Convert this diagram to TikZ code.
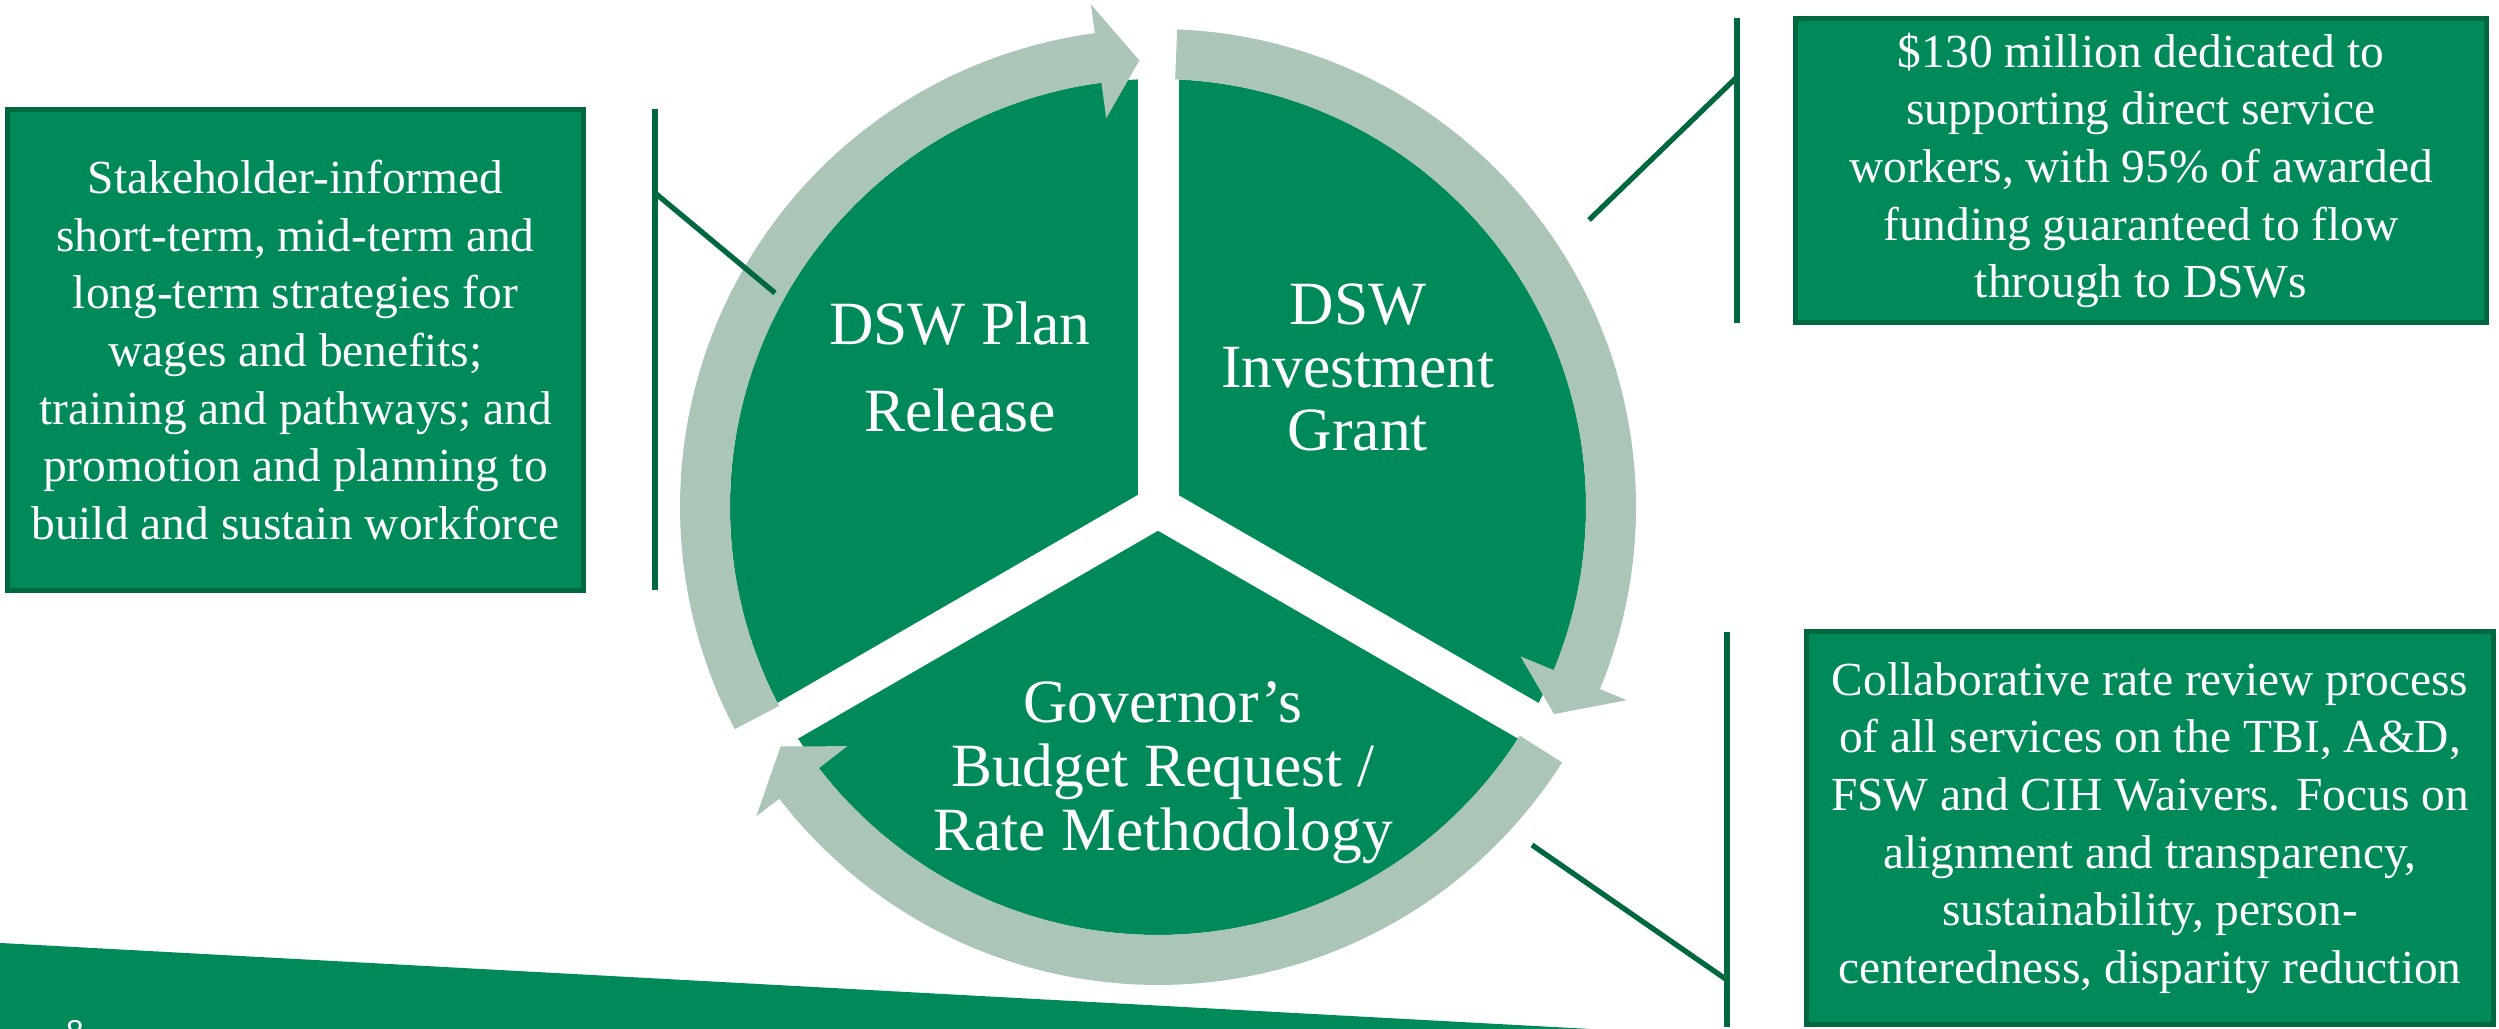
\documentclass[tikz,border=0pt]{standalone}
\usepackage{fontspec}
\setmainfont{Liberation Serif}
\newfontfamily\pagenumfont{Liberation Sans}
\definecolor{mgreen}{RGB}{0,138,90}
\definecolor{dgreen}{RGB}{0,104,62}
\definecolor{lgreen}{RGB}{171,197,182}
\begin{document}
\begin{tikzpicture}
\useasboundingbox (0,0) rectangle (24.99,10.29);
\tikzset{
  infobox/.style={draw=dgreen, line width=1.4pt, fill=mgreen, text=white, align=center,
    font=\fontsize{13.5}{16.4}\selectfont, inner sep=0pt},
  callout/.style={draw=dgreen, line width=1.5pt},
  slicelabel/.style={text=white, align=center, inner sep=0pt},
  gapline/.style={draw=white, line width=0.41cm},
  ringarrow/.style={fill=lgreen},
}
% bottom band
\fill[mgreen] (0,0) -- (0,0.86) -- (15.9,0) -- cycle;
\begin{scope}
  \clip (0,0) rectangle (24.99,10.29);
  \node[text=white, font=\pagenumfont\fontsize{9}{11}\selectfont, anchor=north, inner sep=0pt] (pagenum) at (0.75,0.09) {8};
\end{scope}
% pie
\coordinate (c) at (11.58,5.22);
\fill[mgreen] (c) circle[radius=4.28];
\foreach \g in {90,210,330}{
  \draw[gapline] (c) -- ++(\g:4.35);
}
% ring arrows
\begin{scope}[shift={(11.58,5.22)}]
\foreach \r in {0,120,240}{
  \pgfmathsetmacro\ta{207.7-\r}
  \pgfmathsetmacro\ba{97.6-\r}
  \pgfmathsetmacro\pa{92.4-\r}
  \fill[ringarrow] (\ta:4.78) arc[start angle=\ta, end angle=\ba, radius=4.78]
     -- (\ba:5.07) -- (\pa:4.47) -- (\ba:3.92) -- (\ba:4.28)
     arc[start angle=\ba, end angle=\ta, radius=4.28] -- cycle;
}
\end{scope}
% slice labels
\node[slicelabel, font=\fontsize{17.5}{24.75}\selectfont] (plan) at (9.60,6.62) {DSW Plan\\Release};
\node[slicelabel, font=\fontsize{17.5}{17.9}\selectfont] (grant) at (13.58,6.617) {DSW\\Investment\\Grant};
\node[slicelabel, font=\fontsize{17.5}{18.2}\selectfont] (budget) at (11.63,2.561) {Governor’s\\Budget Request /\\Rate Methodology};
% info boxes
\node[infobox, minimum width=5.76cm, minimum height=4.81cm] (planbox) at (2.955,6.79)
  {Stakeholder-informed\\short-term, mid-term and\\long-term strategies for\\wages and benefits;\\training and pathways; and\\promotion and planning to\\build and sustain workforce};
\node[infobox, minimum width=6.91cm, minimum height=3.04cm] (grantbox) at (21.41,8.585)
  {\$130 million dedicated to\\supporting direct service\\workers, with 95\% of awarded\\funding guaranteed to flow\\through to DSWs};
\node[infobox, minimum width=6.87cm, minimum height=3.93cm] (ratebox) at (21.50,2.01)
  {Collaborative rate review process\\of all services on the TBI, A\&D,\\FSW and CIH Waivers. Focus on\\alignment and transparency,\\sustainability, person-\\centeredness, disparity reduction};
% callout brackets
\coordinate (la) at (6.55,9.20); \coordinate (lb) at (6.55,4.39);
\coordinate (lc) at (6.55,8.36); \coordinate (ld) at (7.75,7.36);
\draw[callout] (la) -- (lb); \draw[callout] (lc) -- (ld);
\coordinate (ga) at (17.37,10.11); \coordinate (gb) at (17.37,7.06);
\coordinate (gc) at (17.37,9.52); \coordinate (gd) at (15.89,8.09);
\draw[callout] (ga) -- (gb); \draw[callout] (gc) -- (gd);
\coordinate (ra) at (17.27,3.97); \coordinate (rb) at (17.27,0.02);
\coordinate (rc) at (15.32,1.84); \coordinate (rd) at (17.27,0.49);
\draw[callout] (ra) -- (rb); \draw[callout] (rc) -- (rd);
\end{tikzpicture}
\end{document}
